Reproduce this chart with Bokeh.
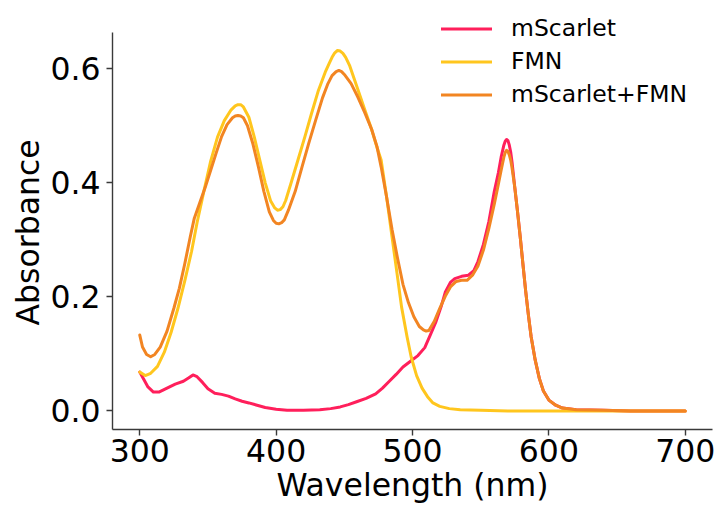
from bokeh.plotting import figure
from bokeh.models import Legend, LegendItem, FixedTicker, PrintfTickFormatter, Range1d, Title
from bokeh.embed import file_html
from bokeh.resources import INLINE

# ---- data ----
wl_mscarlet = [300, 303, 306, 310, 314, 320, 326, 332, 336, 339, 342, 346, 350, 355, 360, 365,
               370, 375, 380, 386, 392, 400, 408, 420, 432, 440, 447, 453, 459, 466, 473, 478,
               483, 488, 493, 499, 504, 509, 513, 517, 521, 524, 528, 531, 536, 541, 545, 548,
               552, 556, 560, 563, 565, 567, 568, 569, 570, 571, 572, 573, 575, 577, 579, 581,
               583, 585, 587, 590, 593, 596, 600, 605, 610, 620, 640, 660, 680, 700]
abs_mscarlet = [0.068, 0.055, 0.042, 0.033, 0.033, 0.040, 0.047, 0.052, 0.058, 0.063, 0.060, 0.050,
                0.039, 0.031, 0.029, 0.026, 0.021, 0.017, 0.014, 0.010, 0.006, 0.003, 0.001, 0.001,
                0.002, 0.004, 0.007, 0.011, 0.016, 0.022, 0.030, 0.040, 0.052, 0.064, 0.077, 0.088,
                0.097, 0.111, 0.133, 0.155, 0.183, 0.208, 0.226, 0.232, 0.236, 0.238, 0.246, 0.262,
                0.292, 0.332, 0.385, 0.418, 0.445, 0.466, 0.473, 0.476, 0.474, 0.466, 0.454, 0.436,
                0.392, 0.350, 0.305, 0.257, 0.210, 0.168, 0.130, 0.089, 0.057, 0.035, 0.019, 0.010,
                0.005, 0.002, 0.001, 0.000, 0.000, 0.000]

wl_fmn = [300, 304, 308, 313, 318, 323, 328, 333, 338, 342, 347, 352, 357, 362, 367, 370, 372,
          374, 376, 380, 384, 388, 392, 396, 399, 401, 403, 405, 407, 411, 416, 421, 426, 431,
          436, 439, 441, 443, 445, 447, 449, 451, 454, 460, 465, 470, 474, 477, 481, 485, 489,
          492, 496, 499, 503, 507, 511, 515, 520, 527, 535, 550, 570, 600, 650, 700]
abs_fmn = [0.068, 0.062, 0.066, 0.078, 0.103, 0.138, 0.180, 0.228, 0.280, 0.330, 0.385, 0.438,
           0.480, 0.509, 0.528, 0.535, 0.537, 0.537, 0.533, 0.515, 0.480, 0.440, 0.400, 0.368,
           0.356, 0.352, 0.353, 0.358, 0.369, 0.400, 0.440, 0.480, 0.522, 0.562, 0.594, 0.610,
           0.620, 0.628, 0.632, 0.631, 0.627, 0.620, 0.605, 0.563, 0.528, 0.494, 0.462, 0.440,
           0.375, 0.305, 0.235, 0.182, 0.130, 0.095, 0.062, 0.040, 0.025, 0.014, 0.008, 0.004,
           0.002, 0.001, 0.000, 0.000, 0.000, 0.000]

wl_mix = [300, 302, 305, 308, 311, 315, 320, 325, 329, 333, 337, 340, 344, 348, 352, 356, 360,
          364, 368, 370, 372, 374, 376, 379, 383, 387, 391, 395, 398, 400, 402, 404, 406, 409,
          414, 419, 424, 429, 434, 438, 441, 444, 446, 448, 450, 455, 460, 465, 470, 474, 477,
          481, 485, 489, 493, 497, 501, 505, 508, 510, 512, 516, 520, 524, 528, 532, 536, 540,
          544, 548, 552, 556, 560, 563, 565, 567, 568, 569, 570, 571, 572, 573, 575, 577, 579,
          581, 583, 585, 587, 590, 593, 596, 600, 605, 610, 620, 640, 660, 680, 700]
abs_mix = [0.133, 0.112, 0.099, 0.095, 0.099, 0.112, 0.140, 0.180, 0.215, 0.258, 0.305, 0.338,
           0.365, 0.392, 0.422, 0.452, 0.481, 0.502, 0.514, 0.517, 0.518, 0.517, 0.514, 0.500,
           0.468, 0.428, 0.385, 0.349, 0.334, 0.329, 0.328, 0.330, 0.335, 0.352, 0.385, 0.428,
           0.470, 0.510, 0.549, 0.574, 0.588, 0.595, 0.597, 0.595, 0.590, 0.574, 0.550, 0.523,
           0.494, 0.463, 0.428, 0.375, 0.318, 0.268, 0.222, 0.190, 0.165, 0.148, 0.142, 0.140,
           0.141, 0.157, 0.180, 0.201, 0.218, 0.227, 0.229, 0.229, 0.238, 0.254, 0.282, 0.320,
           0.363, 0.398, 0.422, 0.445, 0.453, 0.457, 0.455, 0.449, 0.440, 0.426, 0.392, 0.350,
           0.305, 0.257, 0.210, 0.168, 0.130, 0.089, 0.057, 0.035, 0.019, 0.010, 0.005, 0.002,
           0.001, 0.000, 0.000, 0.000]

series_names = ["mScarlet", "FMN", "mScarlet+FMN"]
series_colors = ["#ff1f5b", "#ffc61e", "#f28522"]
x_ticks = [300, 400, 500, 600, 700]
y_ticks = [0.0, 0.2, 0.4, 0.6]
y_axis_lo, y_axis_hi = -0.0326, 0.6636

FONT = "DejaVu Sans"
BIG = "31.5px"

# frame extends to the top of the canvas so the legend can sit above the axis end
p = figure(frame_width=600, frame_height=429, output_backend="svg", toolbar_location=None,
           x_range=Range1d(280, 720), y_range=Range1d(y_axis_lo, 0.7197),
           min_border_left=112, min_border_right=5, min_border_top=0, min_border_bottom=71)
p.outline_line_color = None
p.xgrid.visible = False
p.ygrid.visible = False
p.background_fill_color = "white"

renderers = []
for xs, ys, c in zip([wl_mscarlet, wl_fmn, wl_mix], [abs_mscarlet, abs_fmn, abs_mix], series_colors):
    r = p.line(xs, ys, line_color=c, line_width=3, line_join="round", line_cap="round")
    renderers.append(r)

for ax in (p.xaxis[0], p.yaxis[0]):
    ax.axis_line_color = "#3a3a3a"
    ax.axis_line_width = 1.4
    ax.major_tick_line_color = "#3a3a3a"
    ax.major_tick_line_width = 1.4
    ax.major_tick_out = 6
    ax.major_tick_in = 0
    ax.minor_tick_line_color = None
    ax.major_label_text_font = FONT
    ax.major_label_text_font_size = BIG
    ax.major_label_text_color = "black"
    ax.axis_label_text_font = FONT
    ax.axis_label_text_font_size = BIG
    ax.axis_label_text_font_style = "normal"
    ax.axis_label_text_color = "black"

p.xaxis[0].ticker = FixedTicker(ticks=x_ticks)
p.yaxis[0].ticker = FixedTicker(ticks=y_ticks)
p.yaxis[0].bounds = (y_axis_lo, y_axis_hi)
p.yaxis[0].formatter = PrintfTickFormatter(format="%.1f")
p.xaxis[0].axis_label = "Wavelength (nm)"
p.xaxis[0].major_label_standoff = 3
p.yaxis[0].major_label_standoff = 6
p.xaxis[0].axis_label_standoff = 2

# y-axis label as a side title so it can be centred on the drawn axis span
ylab = Title(text="Absorbance", align="left", offset=104, vertical_align="middle",
             text_font=FONT, text_font_size=BIG, text_font_style="normal",
             text_color="black", standoff=2)
p.add_layout(ylab, "left")

legend = Legend(items=[LegendItem(label=n, renderers=[r]) for n, r in zip(series_names, renderers)],
                location=(329, 321), border_line_color=None, background_fill_alpha=0,
                padding=0, margin=0, spacing=5, glyph_width=51, glyph_height=27,
                label_height=27, label_standoff=19,
                label_text_font=FONT, label_text_font_size="23.5px", label_text_color="black")
p.add_layout(legend, "center")

open("out.html", "w").write(file_html(p, INLINE))
